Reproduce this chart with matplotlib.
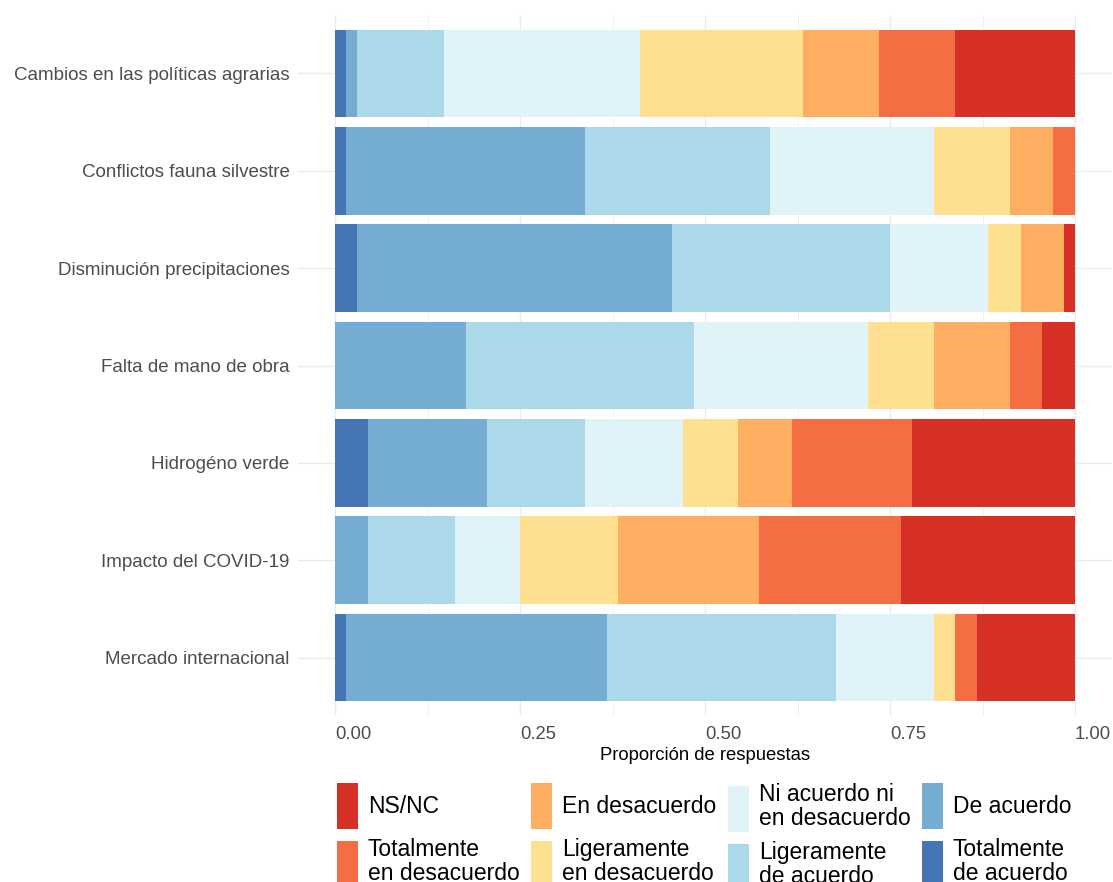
import matplotlib.pyplot as plt
from matplotlib.patches import Patch
import numpy as np

plt.rcParams["font.family"] = ["Liberation Sans", "DejaVu Sans"]

# categories, top to bottom
categories = [
    "Cambios en las políticas agrarias",
    "Conflictos fauna silvestre",
    "Disminución precipitaciones",
    "Falta de mano de obra",
    "Hidrogéno verde",
    "Impacto del COVID-19",
    "Mercado internacional",
]

# stacking order, left to right
levels = [
    "Totalmente de acuerdo",
    "De acuerdo",
    "Ligeramente de acuerdo",
    "Ni acuerdo ni en desacuerdo",
    "Ligeramente en desacuerdo",
    "En desacuerdo",
    "Totalmente en desacuerdo",
    "NS/NC",
]
colors = ["#4575B4", "#74ADD1", "#ABD9E9", "#E0F3F8",
          "#FEE090", "#FDAE61", "#F46D43", "#D73027"]

# number of answers per level (columns follow `levels`)
counts = np.array([
    [1, 1, 8, 18, 15, 7, 7, 11],
    [1, 22, 17, 15, 7, 4, 2, 0],
    [2, 29, 20, 9, 3, 4, 0, 1],
    [0, 12, 21, 16, 6, 7, 3, 3],
    [3, 11, 9, 9, 5, 5, 11, 15],
    [0, 3, 8, 6, 9, 13, 13, 16],
    [1, 24, 21, 9, 2, 0, 2, 9],
])
shares = counts / counts.sum(axis=1, keepdims=True)

legend_cols = [
    [("NS/NC", "#D73027"), ("Totalmente\nen desacuerdo", "#F46D43")],
    [("En desacuerdo", "#FDAE61"), ("Ligeramente\nen desacuerdo", "#FEE090")],
    [("Ni acuerdo ni\nen desacuerdo", "#E0F3F8"), ("Ligeramente\nde acuerdo", "#ABD9E9")],
    [("De acuerdo", "#74ADD1"), ("Totalmente\nde acuerdo", "#4575B4")],
]
legend_x = [337, 531, 728, 922]

W, H = 1113, 882
fig = plt.figure(figsize=(W / 100, H / 100), dpi=100)
ax = fig.add_axes([298 / W, 1 - 716 / H, 814 / W, 701 / H])

ypos = np.arange(len(categories))
left = np.zeros(len(categories))
for j, lev in enumerate(levels):
    ax.barh(ypos, shares[:, j], left=left, height=0.9, color=colors[j],
            linewidth=0, zorder=3)
    left += shares[:, j]

ax.set_xlim(-0.05, 1.05)
ax.set_ylim(len(categories) - 0.4, -0.6)
ax.set_xticks([0, 0.25, 0.5, 0.75, 1.0])
ax.set_xticklabels(["0.00", "0.25", "0.50", "0.75", "1.00"], ha="left")
ax.set_xticks([0.125, 0.375, 0.625, 0.875], minor=True)
ax.set_yticks(ypos)
ax.set_yticklabels(categories)
ax.tick_params(axis="both", which="both", length=0, colors="#4D4D4D")
ax.tick_params(axis="y", labelsize=13.5, pad=6)
ax.tick_params(axis="x", labelsize=13.3, pad=7)
ax.grid(which="major", color="#EBEBEB", linewidth=1.0, zorder=0)
ax.grid(which="minor", axis="x", color="#EBEBEB", linewidth=0.5, zorder=0)
for s in ax.spines.values():
    s.set_visible(False)
ax.set_xlabel("Proporción de respuestas", fontsize=13.3, color="black", labelpad=3)

for col, x in zip(legend_cols, legend_x):
    handles = [Patch(facecolor=c, edgecolor="none") for _, c in col]
    labels = [t for t, _ in col]
    leg = fig.legend(handles, labels, loc="upper left",
                     bbox_to_anchor=(x / W, 1 - 783 / H),
                     frameon=False, fontsize=16.5, handlelength=0.92,
                     handleheight=2.7, handletextpad=0.42, labelspacing=0.39,
                     borderpad=0, borderaxespad=0)
    for t in leg.get_texts():
        t.set_linespacing(1.08)

fig.savefig("out.png", dpi=100)
